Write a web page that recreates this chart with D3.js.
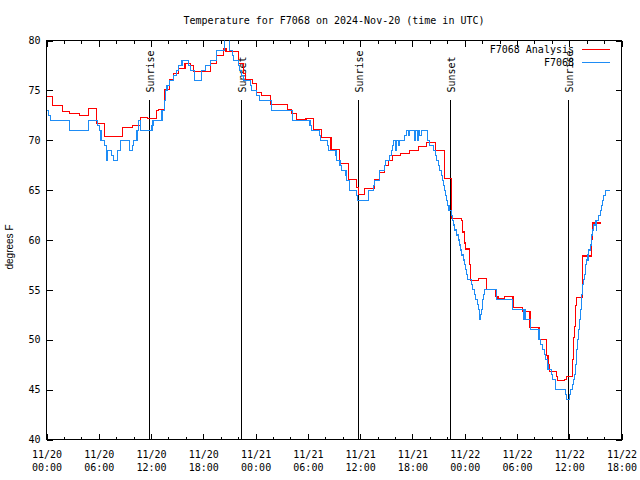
<!DOCTYPE html>
<html><head><meta charset="utf-8">
<script src="https://cdn.jsdelivr.net/npm/d3@7"></script>
<style>
body{margin:0;background:#fff}
text{font-family:"DejaVu Sans Mono","Liberation Mono",monospace;font-size:10px;fill:#000}
</style>
</head><body>
<svg id="chart" width="640" height="480"></svg>
<script>
// ---------- data ----------
const titleText = "Temperature for F7068 on 2024-Nov-20 (time in UTC)";
const yLabel = "degrees F";
const seriesNames = ["F7068 Analysis", "F7068"];
const seriesColors = ["#ff0000", "#1e8cf5"];
const startUTC = Date.UTC(2024, 10, 20, 0, 0);   // 11/20 00:00
const endHour = 66;                              // 11/22 18:00
const yTicks = [40, 45, 50, 55, 60, 65, 70, 75, 80];

// analysis series: hours since start, temperature (°F), step changes
const analysisHours = [0, 0.72, 1.87, 2.67, 3.82, 4.78, 5.69, 6.68, 8.74, 9.82, 10.77, 11.6, 12.6, 12.87, 13.5, 14.1, 14.6, 15.1, 15.9, 16.5, 16.88, 18.8, 19.56, 20.3, 20.6, 22.0, 22.61, 22.8, 23.68, 24.14, 24.71, 25.74, 27.65, 28.15, 28.72, 29.79, 30.63, 31.59, 32.66, 33.61, 34.64, 35.6, 35.79, 36.55, 37.64, 38.27, 38.84, 39.23, 39.7, 40.64, 41.65, 42.66, 43.66, 44.67, 45.68, 46.5, 47.63, 47.74, 47.93, 48.09, 48.58, 48.66, 49.62, 50.5, 51.56, 51.83, 52.55, 53.55, 54.65, 55.5, 56.53, 57.44, 57.56, 57.75, 58.52, 58.63, 59.47, 59.66, 60.35, 60.5, 60.62, 60.73, 60.88, 61.53, 62.6, 62.7, 63.67];
const analysisTemps = [74.4, 73.5, 72.9, 72.7, 72.5, 73.2, 71.7, 70.4, 71.3, 71.5, 72.3, 72.2, 73.0, 73.1, 75.1, 76.1, 76.7, 77.2, 77.7, 77.5, 76.9, 77.7, 78.5, 79.2, 78.9, 77.7, 76.7, 76.1, 75.7, 74.8, 74.5, 73.6, 73.1, 72.7, 72.1, 72.2, 71.1, 70.3, 69.1, 67.7, 66.1, 65.3, 64.6, 65.2, 66.1, 66.8, 67.5, 68.0, 68.5, 68.7, 69.0, 69.4, 69.8, 69.0, 66.2, 62.2, 62.0, 60.8, 59.7, 59.1, 57.5, 55.9, 56.1, 55.0, 54.3, 54.1, 54.3, 53.2, 52.8, 51.2, 50.0, 48.4, 47.5, 46.8, 46.3, 45.9, 46.0, 46.3, 48.0, 50.2, 51.3, 53.4, 54.2, 58.4, 60.1, 61.7, 61.7];

// observed series
const obsHours = [0, 0.27, 0.46, 2.67, 4.85, 5.88, 6.11, 6.26, 6.68, 6.84, 6.95, 7.41, 7.64, 8.1, 8.48, 9.55, 9.82, 10.0, 10.39, 10.6, 10.8, 12.11, 12.22, 13.26, 13.5, 13.64, 13.83, 14.13, 14.59, 14.9, 15.16, 15.55, 16.31, 16.5, 16.96, 17.84, 18.22, 18.87, 19.56, 20.43, 20.97, 21.4, 21.5, 22.0, 22.2, 22.42, 22.61, 23.4, 23.57, 24.07, 24.44, 25.86, 28.27, 30.25, 30.44, 31.31, 31.48, 32.24, 32.35, 33.23, 33.31, 33.69, 33.88, 34.38, 34.46, 34.76, 34.83, 35.6, 35.68, 36.94, 37.51, 37.62, 38.19, 38.27, 38.77, 38.96, 39.42, 39.61, 39.73, 39.88, 40.05, 40.15, 40.4, 40.5, 41.14, 41.33, 41.52, 41.62, 42.28, 42.4, 42.55, 42.66, 42.86, 43.05, 43.69, 44.0, 44.38, 44.69, 44.77, 45.0, 45.15, 45.3, 45.45, 45.58, 45.72, 45.84, 45.95, 46.05, 46.2, 46.49, 46.6, 46.76, 46.87, 47.06, 47.25, 47.37, 47.52, 47.63, 47.82, 48.01, 48.09, 48.2, 48.32, 48.78, 48.9, 49.09, 49.28, 49.43, 49.54, 49.66, 49.73, 49.81, 49.92, 50.04, 50.2, 50.3, 51.7, 53.5, 54.77, 54.85, 55.0, 55.57, 56.53, 56.72, 56.91, 57.18, 57.29, 57.49, 57.56, 57.94, 58.06, 58.44, 59.58, 59.66, 60.04, 60.16, 60.35, 60.5, 60.62, 60.73, 60.81, 60.88, 61.0, 61.11, 61.18, 61.27, 61.38, 61.45, 61.57, 61.65, 61.76, 61.88, 62.03, 62.15, 62.26, 62.41, 62.53, 62.64, 62.79, 63.02, 63.1, 63.18, 63.4, 63.56, 63.67, 63.79, 63.94, 64.17, 64.7];
const obsTemps = [73, 72.5, 72, 71, 72, 71.5, 71, 70, 69.5, 68, 69, 68.5, 68, 69, 70, 69, 69.5, 70, 71, 72, 71, 71.5, 72, 73, 74, 75, 75.5, 76, 76.5, 77, 77.5, 78, 77.5, 77, 76, 77, 77.5, 78, 79, 80.5, 79, 78.5, 78, 77.5, 77, 76.5, 76, 75.5, 75, 74.5, 74, 73, 72, 71.5, 71, 70.5, 70, 69.5, 69, 68.5, 68, 67.5, 67, 66.5, 66, 65.5, 65, 64.5, 64, 65, 65.5, 66, 66.5, 67, 67.5, 68, 68.5, 69, 69.5, 70, 69, 70, 69.5, 70, 70.5, 71, 70.5, 71, 70, 71, 70, 71, 70.5, 71, 70, 69.5, 69, 68.5, 68, 67.5, 67, 66.5, 66, 65.5, 65, 64.5, 64, 63.5, 63, 62.5, 62, 61.5, 61, 60.5, 60, 59.5, 59, 58.5, 58, 57.5, 57, 56.5, 56, 55.5, 55, 54.5, 54, 53.5, 53, 52.5, 52, 52.5, 53, 54, 54.5, 55, 54, 53, 52, 53, 52, 51, 50, 49.5, 49, 48.5, 48, 47.5, 47, 46.5, 46, 45, 44.5, 44, 44.5, 45, 45.5, 46, 46.5, 47.5, 48, 49, 50, 51, 52, 53, 54, 54.5, 55.5, 56, 56.5, 57.5, 58, 58.5, 59, 59.5, 60.5, 61, 61.5, 62, 61, 62, 62.5, 63, 63.5, 64, 64.5, 65, 65];

// sunrise / sunset markers (hours since start)
const sunHours = [11.84, 22.42, 35.8, 46.33, 59.9];
const sunLabels = ["Sunrise", "Sunset", "Sunrise", "Sunset", "Sunrise"];

// ---------- layout ----------
const W = 640, H = 480;
const L = 46.5, R = 621.5, T = 40.5, B = 439.5;
const svg = d3.select("#chart");
const toDate = h => new Date(startUTC + h * 3600000);

const x = d3.scaleUtc().domain([toDate(0), toDate(endHour)]).range([L, R]);
const y = d3.scaleLinear().domain([40, 80]).range([B, T]);

svg.append("rect").attr("width", W).attr("height", H).attr("fill", "#fff");

svg.append("defs").append("clipPath").attr("id", "plotclip")
  .append("rect").attr("x", L).attr("y", T).attr("width", R - L).attr("height", B - T);

// axes (inward ticks, mirrored)
const fmtDay = d3.utcFormat("%m/%d"), fmtTime = d3.utcFormat("%H:%M");
const majorTicks = x.ticks(d3.utcHour.every(6));
const minorTicks = x.ticks(d3.utcHour.every(2));

function styleAxis(g) {
  g.select(".domain").remove();
  g.selectAll(".tick line").attr("stroke", "#000").attr("shape-rendering", "crispEdges");
  g.selectAll("text").attr("fill", "#000").style("font-family", null).style("font-size", null)
    .attr("font-family", null).attr("font-size", null);
}

svg.append("g").attr("transform", `translate(0,${B})`)
  .call(d3.axisBottom(x).tickValues(minorTicks).tickSize(-3).tickFormat(""))
  .call(styleAxis);
svg.append("g").attr("transform", `translate(0,${T})`)
  .call(d3.axisTop(x).tickValues(minorTicks).tickSize(-3).tickFormat(""))
  .call(styleAxis);
svg.append("g").attr("transform", `translate(0,${T})`)
  .call(d3.axisTop(x).tickValues(majorTicks).tickSize(-6).tickFormat(""))
  .call(styleAxis);

const xAxisG = svg.append("g").attr("transform", `translate(0,${B})`)
  .call(d3.axisBottom(x).tickValues(majorTicks).tickSize(-6).tickPadding(11.5).tickFormat(fmtDay))
  .call(styleAxis);
xAxisG.selectAll(".tick text").each(function(d) {
  const t = d3.select(this);
  t.text(null);
  t.append("tspan").attr("x", 0).text(fmtDay(d));
  t.append("tspan").attr("x", 0).attr("dy", "1.3em").text(fmtTime(d));
});

svg.append("g").attr("transform", `translate(${L},0)`)
  .call(d3.axisLeft(y).tickValues(yTicks).tickSize(-6).tickPadding(6).tickFormat(d3.format("d")))
  .call(styleAxis);
svg.append("g").attr("transform", `translate(${R},0)`)
  .call(d3.axisRight(y).tickValues(yTicks).tickSize(-6).tickFormat(""))
  .call(styleAxis);

// border
svg.append("rect").attr("x", L).attr("y", T).attr("width", R - L).attr("height", B - T)
  .attr("fill", "none").attr("stroke", "#000").attr("shape-rendering", "crispEdges");

// sunrise/sunset lines
const sunTop = B - 0.852 * (B - T);
const sunG = svg.append("g");
sunHours.forEach((h, i) => {
  const xs = Math.round(x(toDate(h)) - 0.5) + 0.5;
  sunG.append("line").attr("x1", xs).attr("x2", xs).attr("y1", sunTop).attr("y2", B)
    .attr("stroke", "#000").attr("shape-rendering", "crispEdges");
  sunG.append("text").attr("transform", `translate(${xs + 1},${sunTop - 7}) rotate(-90)`)
    .attr("dy", "0.35em").attr("text-anchor", "start").text(sunLabels[i]);
});

// series
const line = d3.line().x(d => x(toDate(d[0]))).y(d => y(d[1])).curve(d3.curveStepAfter);
const analysis = analysisHours.map((h, i) => [h, analysisTemps[i]]);
const obs = obsHours.map((h, i) => [h, obsTemps[i]]);
const plotG = svg.append("g").attr("clip-path", "url(#plotclip)");
[analysis, obs].forEach((s, i) => {
  plotG.append("path").datum(s).attr("d", line).attr("fill", "none")
    .attr("stroke", seriesColors[i]).attr("stroke-width", 1.1).attr("shape-rendering", "crispEdges");
});

// legend
const legY = [49.5, 62.5];
seriesNames.forEach((n, i) => {
  svg.append("text").attr("x", 574).attr("y", legY[i]).attr("dy", "0.35em")
    .attr("text-anchor", "end").text(n);
  svg.append("line").attr("x1", 582).attr("x2", 610).attr("y1", legY[i]).attr("y2", legY[i])
    .attr("stroke", seriesColors[i]).attr("shape-rendering", "crispEdges");
});

// title and y label
svg.append("text").attr("x", (L + R) / 2).attr("y", 24).attr("text-anchor", "middle").text(titleText);
svg.append("text").attr("transform", `translate(13,247) rotate(-90)`).attr("text-anchor", "middle")
  .style("font-family", "'Liberation Sans', Arial, sans-serif").style("font-size", "10px").text(yLabel);
</script>
</body></html>
